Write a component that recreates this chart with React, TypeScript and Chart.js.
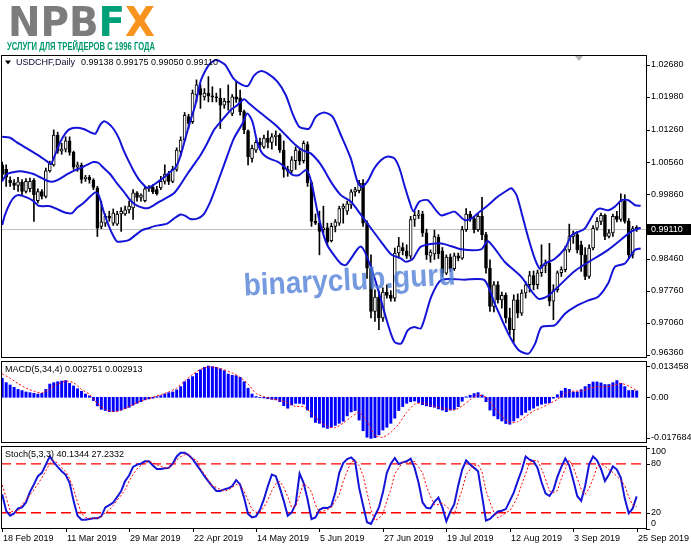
import React, { useEffect, useRef } from "react";
import { Chart, registerables } from "chart.js";

Chart.register(...registerables);

const BLUE = "#1414d8";
const RED = "#ff0000";
const LABEL_FONT = '9px "Liberation Sans", Arial, sans-serif';

const X_MIN = -0.3;
const X_MAX = 162.6;

const symbolName = "USDCHF,Daily";
const dateTickBars = [0, 16, 32, 48, 64, 80, 96, 112, 128, 144, 160];
const dateLabels = ["18 Feb 2019", "11 Mar 2019", "29 Mar 2019", "22 Apr 2019", "14 May 2019", "5 Jun 2019", "27 Jun 2019", "19 Jul 2019", "12 Aug 2019", "3 Sep 2019", "25 Sep 2019"];

const priceTicks = [1.0268, 1.0198, 1.0126, 1.0056, 0.9986, 0.9846, 0.9776, 0.9706, 0.9636];
const macdTicks = [0.013458, 0, -0.017684];
const macdTickText = ["0.013458", "0.00", "-0.017684"];
const stochTicks = [100, 80, 20, 0];
const stochLevels = [80, 20];

const opens = [1.0050,1.0040,1.0016,1.0011,1.0005,1.0012,0.9992,0.9998,1.0016,0.9972,
0.9992,0.9981,1.0037,1.0050,1.0115,1.0080,1.0084,1.0102,1.0077,1.0045,
1.0049,1.0020,1.0023,1.0017,1.0000,0.9916,0.9923,0.9938,0.9923,0.9921,
0.9943,0.9943,0.9952,0.9956,0.9989,0.9979,0.9972,0.9998,1.0001,0.9996,
1.0000,1.0014,1.0030,1.0014,1.0040,1.0079,1.0104,1.0155,1.0144,1.0202,
1.0216,1.0198,1.0206,1.0200,1.0198,1.0195,1.0180,1.0189,1.0162,1.0198,
1.0196,1.0166,1.0124,1.0064,1.0082,1.0099,1.0089,1.0108,1.0099,1.0111,
1.0115,1.0082,1.0036,1.0037,1.0059,1.0080,1.0059,1.0094,1.0011,0.9927,
0.9923,0.9909,0.9913,0.9885,0.9916,0.9923,0.9955,0.9949,0.9963,0.9991,
0.9994,1.0010,0.9923,0.9825,0.9731,0.9762,0.9717,0.9773,0.9766,0.9760,
0.9858,0.9870,0.9863,0.9851,0.9931,0.9940,0.9943,0.9902,0.9851,0.9856,
0.9892,0.9862,0.9814,0.9849,0.9824,0.9852,0.9847,0.9909,0.9943,0.9933,
0.9909,0.9938,0.9898,0.9825,0.9742,0.9789,0.9756,0.9766,0.9717,0.9691,
0.9756,0.9727,0.9771,0.9789,0.9809,0.9789,0.9815,0.9831,0.9836,0.9753,
0.9778,0.9815,0.9822,0.9865,0.9894,0.9898,0.9876,0.9854,0.9807,0.9869,
0.9912,0.9927,0.9940,0.9894,0.9902,0.9938,0.9931,0.9971,0.9927,0.9854,
0.99138];

const highs = [1.0056,1.0050,1.0024,1.0018,1.0023,1.0018,1.0020,1.0021,1.0020,0.9998,
0.9996,1.0043,1.0058,1.0126,1.0121,1.0097,1.0111,1.0111,1.0080,1.0056,
1.0054,1.0027,1.0027,1.0020,1.0003,0.9971,0.9943,0.9949,0.9954,0.9949,
0.9957,0.9960,0.9971,0.9996,0.9992,0.9987,1.0003,1.0005,1.0007,1.0003,
1.0025,1.0050,1.0036,1.0047,1.0087,1.0111,1.0164,1.0160,1.0213,1.0235,
1.0225,1.0216,1.0242,1.0220,1.0206,1.0216,1.0195,1.0224,1.0203,1.0231,
1.0213,1.0169,1.0126,1.0093,1.0104,1.0108,1.0115,1.0124,1.0118,1.0124,
1.0118,1.0102,1.0047,1.0068,1.0089,1.0084,1.0102,1.0100,1.0014,0.9943,
0.9949,0.9960,0.9923,0.9923,0.9931,0.9960,0.9965,0.9971,0.9996,1.0001,
1.0016,1.0018,0.9928,0.9854,0.9778,0.9775,0.9782,0.9789,0.9776,0.9869,
0.9892,0.9880,0.9876,0.9938,0.9949,0.9951,0.9949,0.9910,0.9865,0.9908,
0.9898,0.9870,0.9854,0.9856,0.9858,0.9858,0.9916,0.9955,0.9949,0.9938,
0.9943,0.9979,0.9903,0.9843,0.9796,0.9796,0.9773,0.9771,0.9738,0.9767,
0.9769,0.9778,0.9796,0.9818,0.9819,0.9821,0.9876,0.9843,0.9879,0.9789,
0.9819,0.9828,0.9873,0.9921,0.9906,0.9905,0.9884,0.9870,0.9876,0.9918,
0.9935,0.9945,0.9943,0.9909,0.9943,0.9949,0.9987,0.9985,0.9933,0.9916,
0.99175];

const lows = [1.0019,1.0003,1.0003,0.9996,0.9992,0.9985,0.9989,0.9991,0.9927,0.9967,
0.9976,0.9978,1.0034,1.0047,1.0075,1.0073,1.0078,1.0071,1.0040,1.0036,
1.0010,1.0014,1.0010,0.9996,0.9894,0.9911,0.9916,0.9927,0.9918,0.9918,
0.9905,0.9940,0.9945,0.9931,0.9971,0.9971,0.9969,0.9992,0.9987,0.9984,
0.9996,1.0008,1.0007,1.0011,1.0036,1.0070,1.0102,1.0129,1.0140,1.0187,
1.0173,1.0191,1.0187,1.0187,1.0187,1.0129,1.0173,1.0169,1.0157,1.0186,
1.0158,1.0118,1.0050,1.0056,1.0077,1.0086,1.0086,1.0087,1.0084,1.0092,
1.0077,1.0023,1.0025,1.0032,1.0040,1.0050,1.0054,1.0003,0.9916,0.9920,
0.9854,0.9902,0.9876,0.9882,0.9904,0.9918,0.9923,0.9942,0.9955,0.9982,
0.9989,0.9916,0.9803,0.9717,0.9709,0.9691,0.9709,0.9760,0.9753,0.9753,
0.9847,0.9854,0.9846,0.9846,0.9916,0.9933,0.9894,0.9844,0.9838,0.9844,
0.9846,0.9807,0.9811,0.9818,0.9820,0.9841,0.9844,0.9905,0.9927,0.9902,
0.9905,0.9887,0.9814,0.9731,0.9730,0.9749,0.9738,0.9706,0.9680,0.9664,
0.9717,0.9722,0.9760,0.9773,0.9778,0.9780,0.9807,0.9815,0.9743,0.9713,
0.9773,0.9807,0.9817,0.9860,0.9879,0.9858,0.9818,0.9800,0.9803,0.9865,
0.9908,0.9920,0.9887,0.9891,0.9894,0.9926,0.9927,0.9923,0.9846,0.9847,
0.99050];

const closes = [1.0029,1.0023,1.0011,1.0005,1.0013,0.9992,1.0014,1.0014,0.9985,0.9992,
0.9981,1.0037,1.0052,1.0115,1.0080,1.0084,1.0102,1.0077,1.0045,1.0050,
1.0018,1.0023,1.0017,1.0001,0.9912,0.9926,0.9938,0.9934,0.9945,0.9943,
0.9949,0.9952,0.9960,0.9989,0.9979,0.9984,0.9998,1.0001,0.9991,0.9987,
1.0014,1.0030,1.0014,1.0040,1.0082,1.0104,1.0158,1.0140,1.0206,1.0224,
1.0202,1.0206,1.0200,1.0198,1.0196,1.0180,1.0189,1.0186,1.0198,1.0193,
1.0166,1.0126,1.0068,1.0086,1.0099,1.0093,1.0108,1.0099,1.0111,1.0115,
1.0082,1.0040,1.0040,1.0061,1.0082,1.0058,1.0097,1.0011,0.9927,0.9923,
0.9905,0.9913,0.9883,0.9916,0.9926,0.9955,0.9960,0.9965,0.9991,0.9996,
1.0010,0.9923,0.9825,0.9731,0.9762,0.9717,0.9773,0.9766,0.9759,0.9858,
0.9873,0.9863,0.9851,0.9931,0.9940,0.9943,0.9902,0.9854,0.9860,0.9894,
0.9856,0.9814,0.9849,0.9824,0.9852,0.9847,0.9909,0.9943,0.9933,0.9909,
0.9938,0.9898,0.9825,0.9742,0.9789,0.9756,0.9766,0.9717,0.9691,0.9756,
0.9727,0.9771,0.9789,0.9809,0.9789,0.9815,0.9831,0.9836,0.9753,0.9778,
0.9815,0.9822,0.9865,0.9894,0.9898,0.9865,0.9854,0.9807,0.9869,0.9912,
0.9927,0.9940,0.9894,0.9902,0.9938,0.9931,0.9971,0.9927,0.9854,0.9911,
0.99110];

// Bollinger bands read as [bar, price] vertices
const bbUpper: [number, number][] = [[0,1.0111],[2,1.0109],[3.7,1.0099],[6.2,1.0086],[7.9,1.0077],[9.6,1.0068],[11.2,1.0058],[12.3,1.0052],[13.3,1.0071],[14.6,1.0099],[15.9,1.0118],[17.1,1.0128],[18.8,1.0131],[20.5,1.0128],[22.2,1.0121],[23.5,1.0118],[24.7,1.0137],[25.7,1.0145],[26.8,1.0140],[28.1,1.0128],[29.4,1.0108],[30.6,1.0082],[31.9,1.0058],[33.2,1.0036],[34.4,1.0019],[35.7,1.0006],[36.5,1.0000],[37.8,1.0004],[39.1,1.0012],[40.7,1.0022],[42.4,1.0035],[43.7,1.0044],[44.9,1.0068],[46.2,1.0108],[47.5,1.0147],[48.7,1.0180],[50,1.0231],[51.3,1.0256],[52.5,1.0271],[53.8,1.0278],[54.8,1.0276],[56.3,1.0267],[58.4,1.0237],[60.5,1.0224],[62,1.0222],[63.5,1.0244],[65.2,1.0254],[66.9,1.0249],[69.4,1.0231],[71.5,1.0202],[73.2,1.0162],[74.9,1.0133],[77.4,1.0129],[79.1,1.0155],[81.2,1.0164],[83.3,1.0155],[85.4,1.0115],[87.9,1.0064],[89.6,1.0013],[90.6,1.0002],[92.2,1.0015],[93.8,1.0042],[95.5,1.0060],[97.2,1.0068],[98.9,1.0064],[100.2,1.0042],[101.4,1.0006],[102.7,0.9970],[103.7,0.9949],[105.2,0.9970],[107.3,0.9973],[109.4,0.9951],[110.7,0.9940],[112.4,0.9944],[114.1,0.9948],[116.6,0.9930],[118.3,0.9933],[120.4,0.9948],[122.5,0.9962],[125,0.9981],[127.1,0.9993],[128.4,0.9999],[129.7,0.9984],[130.9,0.9948],[132.6,0.9893],[134.3,0.9846],[135.6,0.9824],[136.8,0.9835],[139.3,0.9845],[141.9,0.9868],[143.6,0.9897],[145.3,0.9904],[146.9,0.9911],[149.5,0.9948],[150.7,0.9955],[152.8,0.9951],[154.5,0.9959],[156.2,0.9973],[157.9,0.9973],[159.6,0.9962],[161,0.9961]];

const bbMiddle: [number, number][] = [[0,1.0014],[1.1,1.0029],[2.8,1.0034],[4.5,1.0036],[6.2,1.0034],[7.9,1.0030],[9.6,1.0023],[11.2,1.0016],[12.5,1.0013],[14.2,1.0018],[16.3,1.0029],[18,1.0037],[19.7,1.0043],[21.4,1.0050],[23,1.0056],[24.3,1.0054],[25.6,1.0043],[27.3,1.0029],[28.9,1.0010],[30.6,0.9992],[32.3,0.9973],[34,0.9961],[35.7,0.9956],[36.9,0.9956],[38.2,0.9962],[39.9,0.9971],[41.6,0.9979],[43.3,0.9988],[44.9,1.0006],[46.6,1.0029],[48.3,1.0050],[50,1.0071],[51.7,1.0097],[53.4,1.0126],[55.1,1.0144],[57.6,1.0169],[59.3,1.0180],[61,1.0193],[62.2,1.0184],[64.3,1.0169],[66.9,1.0151],[69.4,1.0133],[71.9,1.0111],[74,1.0093],[75.7,1.0082],[77.8,1.0075],[80.4,1.0050],[82.9,1.0013],[85.4,0.9984],[87.9,0.9970],[90.5,0.9941],[93,0.9912],[95.5,0.9883],[98.1,0.9855],[100.6,0.9846],[101.8,0.9839],[103.5,0.9845],[105.6,0.9872],[110.7,0.9879],[115.8,0.9866],[120.8,0.9866],[122.5,0.9884],[126.7,0.9839],[130.9,0.9806],[135.1,0.9759],[137.7,0.9765],[144.4,0.9819],[152.8,0.9865],[158.7,0.9905],[161,0.9913]];

const bbLower: [number, number][] = [[0,0.9919],[0.7,0.9941],[2,0.9967],[3.2,0.9981],[4.5,0.9984],[6.2,0.9979],[7.9,0.9971],[9.1,0.9961],[10.4,0.9960],[12.1,0.9960],[13.8,0.9954],[15,0.9949],[16.3,0.9945],[17.6,0.9945],[18.8,0.9956],[20.5,0.9967],[22.2,0.9981],[23.5,0.9990],[24.3,0.9985],[25.6,0.9948],[26.8,0.9919],[28.1,0.9894],[29,0.9883],[30.2,0.9883],[31.9,0.9886],[33.6,0.9897],[35.3,0.9908],[36.9,0.9912],[38.2,0.9916],[39.9,0.9919],[41.6,0.9922],[43.3,0.9933],[45,0.9942],[46.2,0.9939],[47.5,0.9932],[49.2,0.9933],[50.8,0.9942],[52.5,0.9970],[53.8,0.9999],[55.9,1.0049],[58.4,1.0107],[60.6,1.0140],[61.8,1.0162],[63.1,1.0144],[64.3,1.0100],[65.6,1.0075],[67.3,1.0064],[69.4,1.0057],[70.7,1.0049],[71.9,1.0039],[73.2,1.0028],[74.9,1.0028],[76.6,1.0039],[77.4,1.0028],[78.3,0.9999],[79.5,0.9948],[80.8,0.9904],[82,0.9875],[83.7,0.9853],[85.4,0.9835],[86.7,0.9832],[90.5,0.9872],[93.8,0.9806],[97.2,0.9705],[98.9,0.9665],[100.6,0.9661],[102.3,0.9690],[103.9,0.9697],[105.6,0.9694],[108.2,0.9763],[110.7,0.9799],[116.6,0.9800],[121.6,0.9799],[124.2,0.9748],[127.6,0.9683],[130.2,0.9647],[132.7,0.9639],[134.4,0.9661],[136,0.9697],[139.4,0.9701],[141.9,0.9726],[144.4,0.9741],[147.8,0.9755],[150.3,0.9763],[152.8,0.9792],[154.5,0.9828],[157,0.9835],[159.6,0.9865],[161,0.9868]];

const macdHist = [0.0082,0.0063,0.0053,0.0043,0.0034,0.0029,0.0023,0.0020,0.0017,0.0014,
0.0017,0.0034,0.0057,0.0063,0.0067,0.0070,0.0072,0.0060,0.0049,0.0037,
0.0026,0.0014,0.0006,-0.0014,-0.0037,-0.0052,-0.0057,-0.0062,-0.0062,-0.0059,
-0.0055,-0.0049,-0.0043,-0.0034,-0.0026,-0.0019,-0.0011,-0.0007,-0.0004,0.0003,
0.0007,0.0014,0.0020,0.0023,0.0032,0.0046,0.0067,0.0078,0.0089,0.0103,
0.0118,0.0129,0.013458,0.0132,0.0129,0.0123,0.0115,0.0100,0.0095,0.0093,
0.0086,0.0067,0.0039,0.0014,0.0003,-0.0001,-0.0003,-0.0006,-0.0009,-0.0011,
-0.0019,-0.0036,-0.0047,-0.0033,-0.0026,-0.0026,-0.0029,-0.0055,-0.0086,-0.0108,
-0.0112,-0.0129,-0.0134,-0.0129,-0.0121,-0.0112,-0.0103,-0.0080,-0.0063,-0.0057,
-0.0098,-0.0144,-0.0172,-0.017684,-0.0174,-0.0162,-0.0141,-0.0129,-0.0112,-0.0090,
-0.0057,-0.0040,-0.0026,-0.0019,-0.0016,-0.0023,-0.0032,-0.0037,-0.0040,-0.0043,
-0.0050,-0.0055,-0.0062,-0.0055,-0.0052,-0.0040,-0.0017,0.0002,0.0009,0.0016,
0.0020,0.0010,-0.0019,-0.0055,-0.0080,-0.0093,-0.0102,-0.0113,-0.0116,-0.0102,
-0.0089,-0.0076,-0.0065,-0.0055,-0.0047,-0.0037,-0.0030,-0.0026,-0.0023,-0.0004,
0.0011,0.0027,0.0039,0.0034,0.0023,0.0023,0.0033,0.0046,0.0056,0.0066,
0.0066,0.0062,0.0055,0.0055,0.0063,0.0072,0.0060,0.0046,0.0029,0.0030,
0.002751];

const macdSignal: [number, number][] = [[0,0.0101],[2,0.0082],[4,0.0059],[6,0.0040],[8,0.0026],[10,0.0019],[12,0.0036],[14,0.0057],[16,0.0070],[18,0.0063],[20,0.0034],[22,0.0013],[24,-0.0026],[26,-0.0052],[28,-0.0062],[30,-0.0055],[32,-0.0040],[34,-0.0023],[36,-0.0010],[38,0.0000],[40,0.0011],[42,0.0023],[44,0.0040],[46,0.0070],[48,0.0098],[50,0.0120],[52,0.0131],[54,0.0128],[56,0.0118],[58,0.0105],[60,0.0086],[62,0.0057],[64,0.0017],[66,0.0003],[68,-0.0007],[70,-0.0013],[72,-0.0024],[74,-0.0040],[76,-0.0040],[78,-0.0069],[80,-0.0102],[82,-0.0126],[84,-0.0131],[86,-0.0111],[88,-0.0085],[90,-0.0065],[92,-0.0105],[94,-0.0165],[96,-0.0172],[98,-0.0151],[100,-0.0115],[102,-0.0065],[104,-0.0030],[106,-0.0024],[108,-0.0034],[110,-0.0043],[112,-0.0050],[114,-0.0055],[116,-0.0037],[118,-0.0011],[120,0.0010],[122,0.0000],[124,-0.0043],[126,-0.0083],[128,-0.0109],[130,-0.0105],[132,-0.0083],[134,-0.0059],[136,-0.0045],[138,-0.0027],[140,-0.0009],[142,0.0017],[144,0.0027],[146,0.0027],[148,0.0037],[150,0.0046],[152,0.0045],[154,0.0050],[156,0.0060],[158,0.0049],[160,0.002913]];

const stochK = [42.7,22.4,16.4,19.2,25.3,26.5,32.6,45.5,54.8,64.9,
69.0,79.1,89.2,82.3,76.3,71.0,66.6,56.8,34.6,16.4,
11.5,11.5,12.3,13.1,13.1,15.5,26.5,29.3,32.6,39.4,
46.7,58.9,65.7,76.3,79.1,80.3,83.2,83.2,77.9,73.8,
73.8,74.7,75.1,80.3,89.2,93.7,93.7,90.9,86.0,79.1,
72.2,64.9,58.5,52.4,46.7,46.7,48.7,50.0,52.8,60.1,
54.8,38.6,18.4,14.3,15.5,23.6,36.6,52.8,67.0,64.9,
50.8,34.6,16.4,20.4,30.5,68.2,56.8,36.6,12.3,14.3,
23.6,26.1,25.7,28.1,44.7,69.0,81.1,86.0,88.0,83.2,
50.8,29.3,8.3,6.2,16.4,26.5,44.7,69.0,80.3,87.2,
79.9,81.9,83.2,86.4,75.1,56.8,32.6,26.1,25.3,33.4,
38.6,26.5,9.5,21.2,30.5,53.6,73.0,84.4,79.1,75.1,
71.0,40.6,10.3,12.3,17.2,21.6,22.4,24.5,34.6,44.7,
58.9,72.2,89.2,85.2,83.2,75.1,57.7,43.9,40.6,47.9,
64.1,76.3,86.8,77.9,60.1,40.6,34.6,52.8,79.1,89.2,
84.4,73.8,58.9,67.0,77.1,73.0,62.9,37.4,19.2,25.3,
40.1344];

const stochD = [54.0,38.6,22.4,20.8,22.0,29.7,35.8,41.9,47.9,55.2,
62.9,71.4,80.7,84.4,80.7,75.5,70.6,62.1,49.1,33.0,
19.2,14.3,13.1,13.1,13.5,15.5,20.0,23.6,28.9,35.4,
41.5,48.3,58.9,66.6,73.8,78.3,81.5,83.2,81.5,79.1,
77.1,75.1,75.1,79.1,85.2,88.8,91.3,91.3,86.0,85.2,
74.3,67.4,60.1,52.8,51.2,48.3,46.7,47.9,51.2,54.8,
53.6,46.3,35.4,24.0,20.4,20.8,26.9,36.2,47.1,55.6,
58.5,51.2,39.8,26.5,27.7,41.5,55.6,52.4,45.5,29.7,
20.8,22.0,23.6,26.5,34.6,42.3,58.5,71.0,82.8,84.0,
77.9,65.7,44.7,23.6,10.3,13.1,18.4,34.6,48.7,67.8,
75.1,81.9,81.1,81.9,83.2,75.9,69.0,52.4,39.8,29.7,
30.1,31.7,27.7,23.6,18.0,33.8,48.7,67.0,73.0,77.9,
79.1,70.2,47.1,33.0,20.4,13.5,16.4,20.0,22.4,30.5,
40.2,54.8,67.8,81.5,84.4,84.0,74.3,61.3,46.7,44.7,
47.1,62.1,74.3,84.8,76.3,62.5,48.7,42.7,50.0,61.7,
76.7,79.5,77.5,73.0,69.4,64.9,60.1,53.2,39.4,29.3,
27.2332];

type LabelItem = { value: number; text: string };

function drawFrame(chart: any) {
  const { ctx, chartArea } = chart;
  const { left, top, right, bottom } = chartArea;
  ctx.save();
  ctx.strokeStyle = "#000";
  ctx.lineWidth = 1;
  ctx.strokeRect(left + 0.5, top + 0.5, right - left - 1, bottom - top - 1);
  ctx.restore();
}

function drawYLabels(chart: any, items: LabelItem[]) {
  const { ctx, chartArea } = chart;
  const { top, bottom, right } = chartArea;
  const ys = chart.scales.y;
  ctx.save();
  ctx.font = LABEL_FONT;
  ctx.fillStyle = "#000";
  ctx.strokeStyle = "#000";
  ctx.lineWidth = 1;
  ctx.textAlign = "left";
  ctx.textBaseline = "middle";
  for (const it of items) {
    const y = ys.getPixelForValue(it.value);
    if (y >= top && y <= bottom) {
      const yy = Math.round(y) + 0.5;
      ctx.beginPath();
      ctx.moveTo(right - 1, yy);
      ctx.lineTo(right + 3, yy);
      ctx.stroke();
    }
    const ly = Math.min(Math.max(y, top + 6), bottom - 5);
    ctx.fillText(it.text, right + 4, ly);
  }
  ctx.restore();
}

function drawPanelTitle(chart: any, text: string) {
  const { ctx, chartArea } = chart;
  ctx.save();
  ctx.font = LABEL_FONT;
  ctx.fillStyle = "#000";
  ctx.textAlign = "left";
  ctx.textBaseline = "middle";
  ctx.fillText(text, chartArea.left + 4, chartArea.top + 8.5);
  ctx.restore();
}

const last = closes.length - 1;

const mainPlugin = {
  id: "mainDecor",
  beforeDatasetsDraw(chart: any) {
    const { ctx, chartArea } = chart;
    const y = Math.round(chart.scales.y.getPixelForValue(closes[last])) + 0.5;
    ctx.save();
    ctx.strokeStyle = "#c0c0c0";
    ctx.lineWidth = 1;
    ctx.beginPath();
    ctx.moveTo(chartArea.left, y);
    ctx.lineTo(chartArea.right, y);
    ctx.stroke();
    ctx.restore();
  },
  afterDraw(chart: any) {
    const { ctx, chartArea } = chart;
    drawFrame(chart);
    drawYLabels(chart, priceTicks.map((v) => ({ value: v, text: v.toFixed(5) })));
    const py = chart.scales.y.getPixelForValue(closes[last]);
    ctx.save();
    ctx.fillStyle = "#000";
    ctx.fillRect(chartArea.right - 1, Math.round(py) - 5, 45, 11);
    ctx.fillStyle = "#fff";
    ctx.font = LABEL_FONT;
    ctx.textBaseline = "middle";
    ctx.fillText(closes[last].toFixed(5), chartArea.right + 4, py + 0.5);
    ctx.restore();
    ctx.save();
    ctx.fillStyle = "#000";
    const lx = chartArea.left + 4;
    const ly = chartArea.top + 8;
    ctx.beginPath();
    ctx.moveTo(lx, ly - 2.5);
    ctx.lineTo(lx + 6, ly - 2.5);
    ctx.lineTo(lx + 3, ly + 1.5);
    ctx.closePath();
    ctx.fill();
    ctx.font = LABEL_FONT;
    ctx.textBaseline = "middle";
    ctx.fillStyle = "#0a0a30";
    ctx.fillText(symbolName, lx + 11, ly);
    const w1 = ctx.measureText(symbolName).width;
    ctx.fillStyle = "#000";
    ctx.fillText(
      [opens[last], highs[last], lows[last], closes[last]].map((v) => v.toFixed(5)).join(" "),
      lx + 11 + w1 + 6,
      ly
    );
    ctx.fillStyle = "#b4b4b4";
    const sx = chartArea.right - 68;
    ctx.beginPath();
    ctx.moveTo(sx - 4, chartArea.top + 1);
    ctx.lineTo(sx + 4, chartArea.top + 1);
    ctx.lineTo(sx, chartArea.top + 6);
    ctx.closePath();
    ctx.fill();
    ctx.restore();
    ctx.save();
    ctx.font = 'bold 40px "DejaVu Sans", "Liberation Sans", sans-serif';
    ctx.textBaseline = "alphabetic";
    const parts: [string, string][] = [["NPB", "#7c7c7c"], ["F", "#00a078"], ["X", "#f7931e"]];
    const total = parts.reduce((s, [t]) => s + ctx.measureText(t).width, 0);
    ctx.translate(8, 36);
    ctx.scale(147 / total, 1);
    let x = 0;
    for (const [t, c] of parts) {
      ctx.fillStyle = c;
      ctx.fillText(t, x, 0);
      x += ctx.measureText(t).width;
    }
    ctx.restore();
    ctx.save();
    ctx.font = 'bold 10px "Liberation Sans", Arial, sans-serif';
    ctx.fillStyle = "#00996c";
    ctx.textBaseline = "alphabetic";
    ctx.fillText("УСЛУГИ ДЛЯ ТРЕЙДЕРОВ С 1996 ГОДА", 7, 49.5, 148);
    ctx.restore();
    ctx.save();
    ctx.translate(350, 290);
    ctx.rotate((-3 * Math.PI) / 180);
    ctx.font = 'bold 31px "Liberation Sans", Arial, sans-serif';
    ctx.fillStyle = "rgba(78,126,214,0.78)";
    ctx.textAlign = "center";
    ctx.textBaseline = "alphabetic";
    ctx.fillText("binaryclub.guru", 0, 0, 212);
    ctx.restore();
  },
};

const macdPlugin = {
  id: "macdDecor",
  afterDraw(chart: any) {
    drawFrame(chart);
    drawYLabels(chart, macdTicks.map((v, i) => ({ value: v, text: macdTickText[i] })));
    const sig = macdSignal[macdSignal.length - 1][1];
    drawPanelTitle(chart, `MACD(5,34,4) ${macdHist[last].toFixed(6)} ${sig.toFixed(6)}`);
  },
};

const stochPlugin = {
  id: "stochDecor",
  afterDraw(chart: any) {
    const { ctx, chartArea } = chart;
    drawFrame(chart);
    drawYLabels(chart, stochTicks.map((v) => ({ value: v, text: String(v) })));
    drawPanelTitle(chart, `Stoch(5,3,3) ${stochK[last].toFixed(4)} ${stochD[last].toFixed(4)}`);
    const xs = chart.scales.x;
    ctx.save();
    ctx.font = LABEL_FONT;
    ctx.fillStyle = "#000";
    ctx.strokeStyle = "#000";
    ctx.lineWidth = 1;
    ctx.textAlign = "left";
    ctx.textBaseline = "middle";
    dateTickBars.forEach((b, i) => {
      const x = Math.round(xs.getPixelForValue(b)) + 0.5;
      ctx.beginPath();
      ctx.moveTo(x, chartArea.bottom - 1);
      ctx.lineTo(x, chartArea.bottom + 3);
      ctx.stroke();
      ctx.fillText(dateLabels[i], x + 0.5, chartArea.bottom + 10);
    });
    ctx.restore();
  },
};

const xScale = { type: "linear", min: X_MIN, max: X_MAX, display: false, offset: false };

export default function App() {
  const refA = useRef<HTMLCanvasElement>(null);
  const refB = useRef<HTMLCanvasElement>(null);
  const refC = useRef<HTMLCanvasElement>(null);

  useEffect(() => {
    document.body.style.margin = "0";
    const bodyColors = opens.map((o, i) => (closes[i] >= o ? "#ffffff" : "#000000"));
    const lineDs = (pts: [number, number][]) => ({
      type: "line",
      data: pts.map(([x, y]) => ({ x, y })),
      borderColor: BLUE,
      borderWidth: 2,
      pointRadius: 0,
      tension: 0.25,
      order: 0,
    });
    const chartA = new Chart(refA.current as HTMLCanvasElement, {
      type: "bar",
      data: {
        datasets: [
          lineDs(bbUpper),
          lineDs(bbMiddle),
          lineDs(bbLower),
          {
            type: "bar",
            data: opens.map((o, i) => ({ x: i, y: [o, closes[i]] })),
            backgroundColor: bodyColors,
            borderColor: "#000",
            borderWidth: 1,
            borderSkipped: false,
            barThickness: 3,
            grouped: false,
            order: 1,
          },
          {
            type: "bar",
            data: lows.map((l, i) => ({ x: i, y: [l, highs[i]] })),
            backgroundColor: "#000",
            borderWidth: 0,
            barThickness: 1,
            grouped: false,
            order: 2,
          },
        ],
      } as any,
      options: {
        animation: false,
        responsive: false,
        events: [],
        layout: { padding: { left: 1, right: 44, top: 55, bottom: 2 } },
        plugins: { legend: { display: false }, tooltip: { enabled: false } },
        scales: {
          x: xScale as any,
          y: { type: "linear", min: 0.96295, max: 1.02891, display: false },
        },
      },
      plugins: [mainPlugin],
    });

    const chartB = new Chart(refB.current as HTMLCanvasElement, {
      type: "bar",
      data: {
        datasets: [
          {
            type: "line",
            data: macdSignal.map(([x, y]) => ({ x, y })),
            borderColor: RED,
            borderWidth: 1,
            borderDash: [2, 2],
            pointRadius: 0,
            tension: 0.2,
            order: 0,
          },
          {
            type: "bar",
            data: macdHist.map((v, i) => ({ x: i, y: v })),
            backgroundColor: "#0000ff",
            barThickness: 2.3,
            grouped: false,
            order: 1,
          },
        ],
      } as any,
      options: {
        animation: false,
        responsive: false,
        events: [],
        layout: { padding: { left: 1, right: 44, top: 1, bottom: 2 } },
        plugins: { legend: { display: false }, tooltip: { enabled: false } },
        scales: {
          x: xScale as any,
          y: { type: "linear", min: -0.01968, max: 0.01563, display: false },
        },
      },
      plugins: [macdPlugin],
    });

    const chartC = new Chart(refC.current as HTMLCanvasElement, {
      type: "line",
      data: {
        datasets: [
          ...stochLevels.map((lv) => ({
            data: [{ x: X_MIN, y: lv }, { x: X_MAX, y: lv }],
            borderColor: RED,
            borderWidth: 1.4,
            borderDash: [10, 5],
            pointRadius: 0,
            order: 2,
          })),
          {
            data: stochK.map((v, i) => ({ x: i, y: v })),
            borderColor: BLUE,
            borderWidth: 2,
            pointRadius: 0,
            tension: 0,
            order: 1,
          },
          {
            data: stochD.map((v, i) => ({ x: i, y: v })),
            borderColor: RED,
            borderWidth: 1,
            borderDash: [2, 2],
            pointRadius: 0,
            tension: 0,
            order: 0,
          },
        ],
      } as any,
      options: {
        animation: false,
        responsive: false,
        events: [],
        layout: { padding: { left: 1, right: 44, top: 1, bottom: 20 } },
        plugins: { legend: { display: false }, tooltip: { enabled: false } },
        scales: {
          x: xScale as any,
          y: { type: "linear", min: 0, max: 102, display: false },
        },
      },
      plugins: [stochPlugin],
    });

    return () => {
      chartA.destroy();
      chartB.destroy();
      chartC.destroy();
    };
  }, []);

  return (
    <div style={{ position: "absolute", left: 0, top: 0, width: 691, height: 549, background: "#fff", overflow: "hidden" }}>
      <canvas ref={refA} width={691} height={360} style={{ position: "absolute", left: 0, top: 0 }} />
      <canvas ref={refB} width={691} height={85} style={{ position: "absolute", left: 0, top: 360 }} />
      <canvas ref={refC} width={691} height={104} style={{ position: "absolute", left: 0, top: 445 }} />
    </div>
  );
}
